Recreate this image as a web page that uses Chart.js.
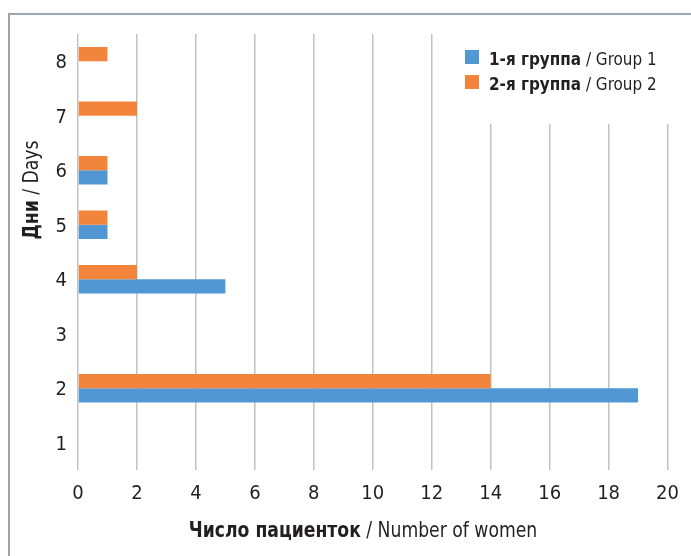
<!DOCTYPE html>
<html>
<head>
<meta charset="utf-8">
<script src="https://cdn.jsdelivr.net/npm/chart.js@4"></script>
<style>
  html, body { margin: 0; padding: 0; background: #fff; overflow: hidden; }
  #wrap { position: relative; width: 691px; height: 556px; overflow: hidden; }
  #frame { position: absolute; left: 8px; top: 13px; width: 720px; height: 600px;
           border: 2px solid #9ca6ae; box-sizing: border-box; }
  #myChart { position: absolute; left: 0; top: 0; }
</style>
</head>
<body>
<div id="wrap">
  <div id="frame"></div>
  <canvas id="myChart" width="691" height="556"></canvas>
</div>
<script>
// data
const days = ['1', '2', '3', '4', '5', '6', '7', '8'];
const group1 = [0, 19, 0, 5, 1, 1, 0, 0];
const group2 = [0, 14, 0, 2, 1, 1, 2, 1];
const xMax = 20;
const xStep = 2;

const blue = '#5097d4';
const orange = '#f3843b';
const FONT = "'Liberation Sans Narrow', 'DejaVu Sans Condensed', 'Roboto Condensed', sans-serif";

// draws bold + plain text, squeezed horizontally to look condensed
function mixedText(c, bold, plain, size, squeeze, x, y, align) {
    c.font = 'bold ' + size + 'px ' + FONT;
    const wb = c.measureText(bold).width;
    c.font = size + 'px ' + FONT;
    const wp = c.measureText(plain).width;
    c.save();
    c.translate(x, y);
    c.scale(squeeze, 1);
    const s = align === 'center' ? -(wb + wp) / 2 : 0;
    c.font = 'bold ' + size + 'px ' + FONT;
    c.fillText(bold, s, 0);
    c.font = size + 'px ' + FONT;
    c.fillText(plain, s + wb, 0);
    c.restore();
}

// legend + axis titles (mixed bold / regular text)
const extras = {
    id: 'extras',
    beforeDatasetsDraw(chart) {
        const c = chart.ctx;
        c.save();
        c.fillStyle = '#fff';
        c.fillRect(450, 30, 241, 94);
        c.restore();
    },
    afterDraw(chart) {
        const c = chart.ctx;
        c.save();
        c.textBaseline = 'alphabetic';

        const legendRows = [
            { color: blue, bold: '1-я группа', plain: ' / Group 1', y: 65 },
            { color: orange, bold: '2-я группа', plain: ' / Group 2', y: 90 }
        ];
        legendRows.forEach(r => {
            c.fillStyle = r.color;
            c.fillRect(465, r.y - 15, 14, 14);
            c.fillStyle = '#231f20';
            mixedText(c, r.bold, r.plain, 18, 0.94, 489, r.y, 'left');
        });

        // x title
        c.fillStyle = '#231f20';
        mixedText(c, 'Число пациенток', ' / Number of women', 22, 0.87, 363, 537, 'center');

        // y title
        c.translate(38, 190);
        c.rotate(-Math.PI / 2);
        mixedText(c, 'Дни', ' / Days', 22, 0.87, 0, 0, 'center');
        c.restore();
    }
};

const ctx = document.getElementById('myChart').getContext('2d');

const myChart = new Chart(ctx, {
    type: 'bar',
    data: {
        labels: days,
        datasets: [
            { label: '2-я группа / Group 2', data: group2, backgroundColor: orange },
            { label: '1-я группа / Group 1', data: group1, backgroundColor: blue }
        ]
    },
    options: {
        indexAxis: 'y',
        responsive: false,
        animation: false,
        layout: { padding: { top: 34, right: 23, left: 0, bottom: 0 } },
        categoryPercentage: 0.52,
        barPercentage: 1,
        plugins: {
            legend: { display: false },
            tooltip: { enabled: false }
        },
        scales: {
            x: {
                min: 0,
                max: xMax,
                ticks: {
                    stepSize: xStep,
                    color: '#231f20',
                    padding: 12,
                    font: { family: FONT, size: 20 }
                },
                grid: { color: '#c2c2c6', lineWidth: 1.5, drawTicks: false },
                border: { display: false },
                afterFit(scale) { scale.height = 86; }
            },
            y: {
                reverse: true,
                ticks: {
                    color: '#231f20',
                    padding: 11,
                    labelOffset: 2,
                    font: { family: FONT, size: 20 }
                },
                grid: { display: false, drawTicks: false },
                border: { display: false },
                afterFit(scale) { scale.width = 78; }
            }
        }
    },
    plugins: [extras]
});
</script>
</body>
</html>
